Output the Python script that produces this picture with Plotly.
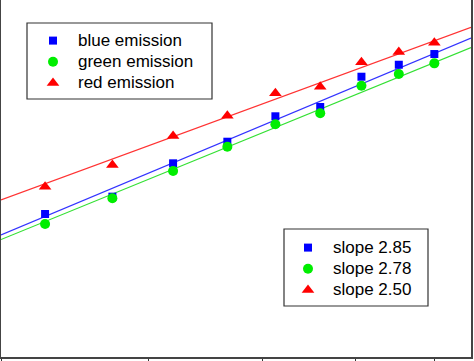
import numpy as np
import plotly.graph_objects as go

# ---- data ----
x_vals = [3.27, 3.73, 4.20, 4.67, 5.13, 5.60, 6.07, 6.53, 7.00]
blue_vals = [67.1, 84.5, 131.7, 175.6, 246.3, 278.7, 417.1, 489.2, 564.1]
green_vals = [58.7, 82.7, 118.9, 164.3, 221.4, 256.3, 370.0, 432.3, 498.4]
red_vals = [96.5, 128.8, 189.5, 248.3, 334.5, 365.1, 505.1, 579.4, 655.8]
series_names = ["blue emission", "green emission", "red emission"]
slope_vals = [2.85, 2.78, 2.50]
x_ticks = [3, 4, 5, 6, 7]
x_range = [3.0, 7.52]
y_range = [10.0, 1158.0]

colors = ["#0000FF", "#00EE00", "#FF0000"]
line_colors = ["#3333FF", "#33E033", "#FF3333"]
symbols = ["square", "circle", "triangle-up"]
sizes = [8, 10, 11]

def big(t):
    return f"<span style='font-size:17px'>{t}</span>"

fig = go.Figure()
series = [blue_vals, green_vals, red_vals]
lx = np.log10(np.array(x_vals))
for vals, slope, lc in zip(series, slope_vals, line_colors):
    ly = np.log10(np.array(vals))
    b = np.mean(ly - slope * lx)
    xl = np.array(x_range)
    yl = 10 ** (b + slope * np.log10(xl))
    fig.add_trace(go.Scatter(x=xl, y=yl, mode="lines", line=dict(color=lc, width=1.2),
                             showlegend=False, hoverinfo="skip"))

for vals, name, c, s, sz in zip(series, series_names, colors, symbols, sizes):
    fig.add_trace(go.Scatter(x=x_vals, y=vals, mode="markers", name=big(name),
                             marker=dict(color=c, symbol=s, size=sz), legend="legend"))

for slope, c, s, sz in zip(slope_vals, colors, symbols, sizes):
    fig.add_trace(go.Scatter(x=[None], y=[None], mode="markers", name=big(f"slope {slope:.2f}"),
                             marker=dict(color=c, symbol=s, size=sz), legend="legend2"))

W, H = 474, 361
ml, mr, mt, mb = 1, 3, 0, 4
pw, ph = W - ml - mr, H - mt - mb

def px2paper(px, py):
    return (px - ml) / pw, 1 - (py - mt) / ph

# legend boxes (pixel rectangles)
boxes = [(27, 23, 212, 99), (284, 229, 428, 306)]
shapes = []
for (x0, y0, x1, y1) in boxes:
    a0, b0 = px2paper(x0, y0)
    a1, b1 = px2paper(x1, y1)
    shapes.append(dict(type="rect", xref="paper", yref="paper", x0=a0, y0=b1, x1=a1, y1=b0,
                       line=dict(color="#333", width=1.2), fillcolor="white", layer="below"))

l1x, l1y = px2paper(28, 25)
l2x, l2y = px2paper(283, 232)

fig.update_layout(
    width=W, height=H,
    margin=dict(l=ml, r=mr, t=mt, b=mb),
    paper_bgcolor="white", plot_bgcolor="white",
    font=dict(family="Liberation Sans, Arial, sans-serif", size=14, color="black"),
    shapes=shapes,
    xaxis=dict(type="log", range=[np.log10(x_range[0]), np.log10(x_range[1])],
               tickvals=x_ticks, showticklabels=False, ticks="outside", ticklen=5,
               tickcolor="#333", tickwidth=1, showgrid=False, zeroline=False,
               showline=True, linecolor="#444", linewidth=1.5, mirror=False),
    yaxis=dict(type="log", range=[np.log10(y_range[0]), np.log10(y_range[1])],
               showticklabels=False, ticks="", showgrid=False, zeroline=False,
               showline=True, linecolor="#444", linewidth=1.5, mirror=True),
    legend=dict(x=l1x, y=l1y, xanchor="left", yanchor="top", bgcolor="rgba(0,0,0,0)",
                borderwidth=0, itemwidth=40, font=dict(size=14)),
    legend2=dict(x=l2x, y=l2y, xanchor="left", yanchor="top", bgcolor="rgba(0,0,0,0)",
                 borderwidth=0, itemwidth=40, font=dict(size=14)),
)

fig.write_html("out.html", config={"displayModeBar": False},
               post_script="document.body.style.margin='0';document.body.style.overflow='hidden';")
